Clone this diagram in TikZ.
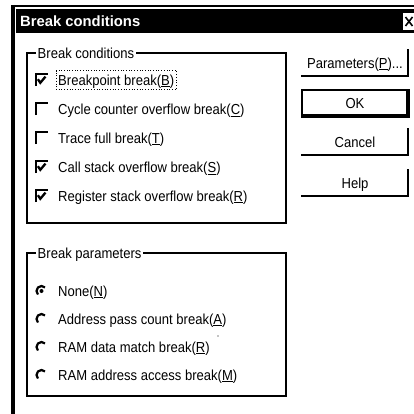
\documentclass[tikz,border=0pt]{standalone}
\usepackage{fontspec}
\setmainfont{Liberation Sans}[FakeStretch=0.9]
\newfontfamily\tfont{Liberation Sans}
\usetikzlibrary{fit}
\newcommand{\mn}[1]{\underline{#1}}
\begin{document}
\begin{tikzpicture}[x=1pt,y=-1pt,
  txt/.style={anchor=west,inner sep=0pt,font=\fontsize{14.5}{16}\selectfont,text height=10.4pt,text depth=0pt},
  btntxt/.style={anchor=center,inner sep=0pt,font=\fontsize{14.5}{16}\selectfont,text height=10.4pt,text depth=0pt},
  grouplab/.style={txt,fill=white,inner xsep=1.5pt,inner ysep=1pt},
  groupbox/.style={draw=black,line width=1.2pt},
  btnedge/.style={draw=black,line width=2.2pt,line cap=rect},
  focusbox/.style={draw=black,dotted,line width=0.7pt},
  cbox/.pic={\draw[line width=2.2pt] (-5.8,6.2) -- (-5.8,-5.8) -- (6.2,-5.8);},
  cmark/.pic={\draw[line width=2.3pt,line join=miter] (-3.6,-0.8) -- (-1.2,2.8) -- (4,-3.4);},
  rad/.pic={\draw[line width=2.2pt] (-45:5) arc[start angle=-45,end angle=-225,radius=5];},
  raddot/.pic={\fill (0,0) circle[radius=2];}
]
\useasboundingbox (0,0) rectangle (414,414);
% window frame
\draw[line width=1.5pt] (11.5,6) -- (416,6);
\draw[line width=3.5pt] (13,5) -- (13,416);
\fill[black] (16,9) rectangle (416,33);
\node[anchor=west,inner sep=0pt,text=white,font=\tfont\bfseries\fontsize{14.8}{16}\selectfont] (title) at (20,21.5) {Break conditions};
\fill[white] (403,13) rectangle (416,30);
\draw[line width=1.6pt] (405.5,17) -- (412.5,26) (412.5,17) -- (405.5,26);
% group box 1
\draw[groupbox] (27,53) rectangle (286,223);
\node[grouplab] (g1) at (36,53) {Break conditions};
\foreach \yy/\nm/\lab/\chk in {80/c1/{Breakpoint break(\mn{B})}/1,
                               109/c2/{Cycle counter overflow break(\mn{C})}/0,
                               138/c3/{Trace full break(\mn{T})}/0,
                               167/c4/{Call stack overflow break(\mn{S})}/1,
                               196/c5/{Register stack overflow break(\mn{R})}/1}{
  \pic at (41.5,\yy) {cbox};
  \ifnum\chk=1 \pic at (41.5,\yy) {cmark};\fi
  \node[txt] (\nm) at (58,\yy) {\lab};
}
\node[focusbox,fit=(c1),inner xsep=2pt,inner ysep=4pt] (f1) {};
% group box 2
\draw[groupbox] (27,253) rectangle (286,396);
\node[grouplab] (g2) at (36,253) {Break parameters};
\foreach \yy/\nm/\lab in {291/r1/{None(\mn{N})},
                          319/r2/{Address pass count break(\mn{A})},
                          347/r3/{RAM data match break(\mn{R})},
                          375/r4/{RAM address access break(\mn{M})}}{
  \pic at (41.5,\yy) {rad};
  \node[txt] (\nm) at (58,\yy) {\lab};
}
\pic at (41.5,291) {raddot};
\fill (218,336) circle[radius=0.6];
% buttons
\node[btntxt] (bp) at (355,63) {Parameters(\mn{P})...};
\draw[btnedge] (302,76) -- (408,76) -- (408,50);
\node[btntxt] (bo) at (355,103) {OK};
\draw[black,line width=1.2pt] (302,90) rectangle (409,117);
\draw[black,line width=1.5pt] (303,115.2) -- (407.2,115.2) -- (407.2,91);
\node[btntxt] (bc) at (355,142) {Cancel};
\draw[btnedge] (302,155) -- (408,155) -- (408,129);
\node[btntxt] (bh) at (355,183) {Help};
\draw[btnedge] (302,196) -- (408,196) -- (408,170);
\end{tikzpicture}
\end{document}
